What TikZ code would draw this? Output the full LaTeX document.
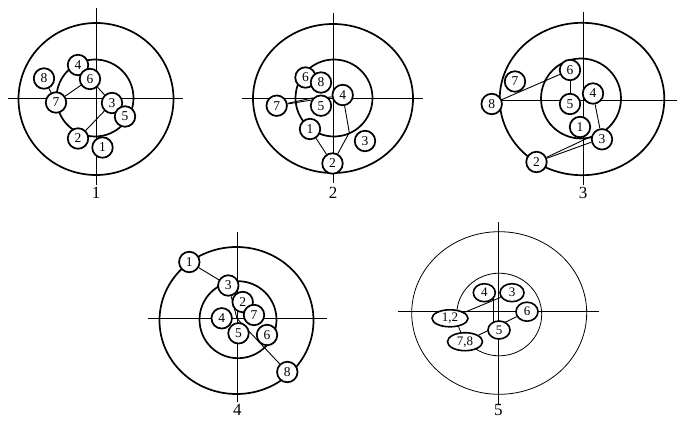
\documentclass[tikz,border=0pt]{standalone}
\usepackage{fontspec}
\setmainfont{Liberation Serif}
\usetikzlibrary{shapes.geometric}
\pgfdeclarelayer{bg}
\pgfsetlayers{bg,main}
\begin{document}
\begin{tikzpicture}[x=1pt,y=-1pt,
  axis/.style={line width=0.8pt},
  ring/.style={line width=1.7pt},
  thinring/.style={line width=0.8pt},
  conn/.style={line width=0.9pt},
  num/.style={circle,draw,line width=1.7pt,fill=white,inner sep=0pt,minimum size=20.5pt,font=\fontsize{13.5}{13.5}\selectfont},
  oval/.style={ellipse,draw,line width=1.6pt,fill=white,inner sep=0pt,font=\fontsize{13}{13}\selectfont},
  captxt/.style={font=\fontsize{17}{17}\selectfont}]
\useasboundingbox (0,0) rectangle (677,425);

% ---------- nodes ----------
\node[num] (a8) at (44,78.5) {8};
\node[num] (a4) at (78,65) {4};
\node[num] (a6) at (90,79) {6};
\node[num] (a7) at (56,102.5) {7};
\node[num] (a3) at (112,103) {3};
\node[num] (a5) at (125,116.5) {5};
\node[num] (a2) at (78,138.5) {2};
\node[num] (a1) at (102.5,147.5) {1};
\node[captxt] (c1) at (96,193) {1};

\node[num] (b6) at (305.5,77.5) {6};
\node[num] (b8) at (321,82.5) {8};
\node[num] (b4) at (342.7,95) {4};
\node[num] (b7) at (276.7,105.7) {7};
\node[num] (b5) at (321,105.7) {5};
\node[num] (b1) at (310,129) {1};
\node[num] (b3) at (365,141) {3};
\node[num] (b2) at (332.5,163.5) {2};
\coordinate (bx) at (349.3,132.5);
\node[captxt] (c2) at (333,193) {2};

\node[num] (g7) at (515,81.5) {7};
\node[num] (g6) at (570,70) {6};
\node[num] (g8) at (491.7,104) {8};
\node[num] (g5) at (570,104) {5};
\node[num] (g4) at (593,93.5) {4};
\node[num] (g1) at (580,127) {1};
\node[num] (g3) at (602,139.3) {3};
\node[num] (g2) at (536.5,162) {2};
\coordinate (gr) at (677,100);
\coordinate (gl) at (491.7,100);
\node[captxt] (c3) at (583,193) {3};

\node[num] (d1) at (189.3,262) {1};
\node[num] (d3) at (228.3,285.5) {3};
\node[num] (d2) at (242.7,302) {2};
\node[num] (d7) at (254,315) {7};
\node[num] (d4) at (221.7,318.3) {4};
\node[num] (d5) at (238.5,333.3) {5};
\node[num] (d6) at (267,335) {6};
\node[num] (d8) at (287.3,372) {8};
\coordinate (dj) at (237,318.5);
\node[captxt] (c4) at (237.3,409.5) {4};

\node[oval,minimum width=22pt,minimum height=18pt] (e4) at (484.3,292.7) {4};
\node[oval,minimum width=24pt,minimum height=18pt] (e3) at (512,292.7) {3};
\node[oval,minimum width=22pt,minimum height=19pt] (e6) at (527,311.7) {6};
\node[oval,minimum width=36pt,minimum height=17pt] (e12) at (450,318.3) {1,2};
\node[oval,minimum width=22pt,minimum height=18pt] (e5) at (499,330) {5};
\node[oval,minimum width=35pt,minimum height=18pt] (e78) at (465,341.7) {7,8};
\coordinate (ev1) at (493.3,296);
\coordinate (ev2) at (493.3,322);
\node[captxt] (c5) at (498.3,410) {5};

\begin{pgfonlayer}{bg}
\fill[white] (0,0) rectangle (677,425);
% diagram 1
\draw[axis] (96,8) -- (96,185);
\draw[axis] (8,98) -- (183,98);
\draw[ring] (96,99) circle [x radius=77.5pt, y radius=76pt];
\draw[ring] (95,98) circle [radius=38.5pt];
% diagram 2
\draw[axis] (333.5,13) -- (333.5,183);
\draw[axis] (242,98.5) -- (423,98.5);
\draw[ring] (333,98.5) circle [x radius=80pt, y radius=74.5pt];
\draw[ring] (334,98) circle [radius=38.5pt];
% diagram 3
\draw[axis] (583.5,12) -- (583.5,185);
\draw[ring] (582,99) circle [x radius=82.3pt, y radius=76.2pt];
\draw[ring] (581,98.5) circle [radius=40pt];
% diagram 4
\draw[axis] (237,232) -- (237,402);
\draw[axis] (148,318) -- (327,318);
\draw[ring] (236.5,320.5) circle [x radius=77pt, y radius=73.5pt];
\draw[ring] (238,319.7) circle [radius=38.5pt];
% diagram 5
\draw[axis] (498.5,222) -- (498.5,405);
\draw[axis] (398,311.5) -- (599,311.5);
\draw[thinring] (499.2,313) circle [x radius=87.5pt, y radius=81.3pt];
\draw[thinring] (499.2,314.5) circle [x radius=42.5pt, y radius=41.3pt];

% connectors
\draw[conn] (a8) -- (a7);
\draw[conn] (a7) -- (a6);
\draw[conn] (a6) -- (a3);
\draw[conn] (a2) -- (a3);

\draw[conn] (b7) -- (b4);
\draw[conn] (b7) -- (b5.north west);
\draw[conn] (b4) -- (bx) -- (b2);
\draw[conn] (b1) -- (b2);

\draw[axis] (gl) -- (gr);
\draw[conn] (g8) -- (g6);
\draw[conn] (g6) -- (g5);
\draw[conn] (g4) -- (g3);
\draw[conn] (g2) -- (g3.165);
\draw[conn] (g2) -- (g3.195);

\draw[conn] (d1) -- (d3) -- (dj) -- (d8);

\draw[conn] (e12) -- (e3);
\draw[conn] (e78) -- (e6);
\draw[conn] (ev1) -- (ev2);
\end{pgfonlayer}
\end{tikzpicture}
\end{document}
